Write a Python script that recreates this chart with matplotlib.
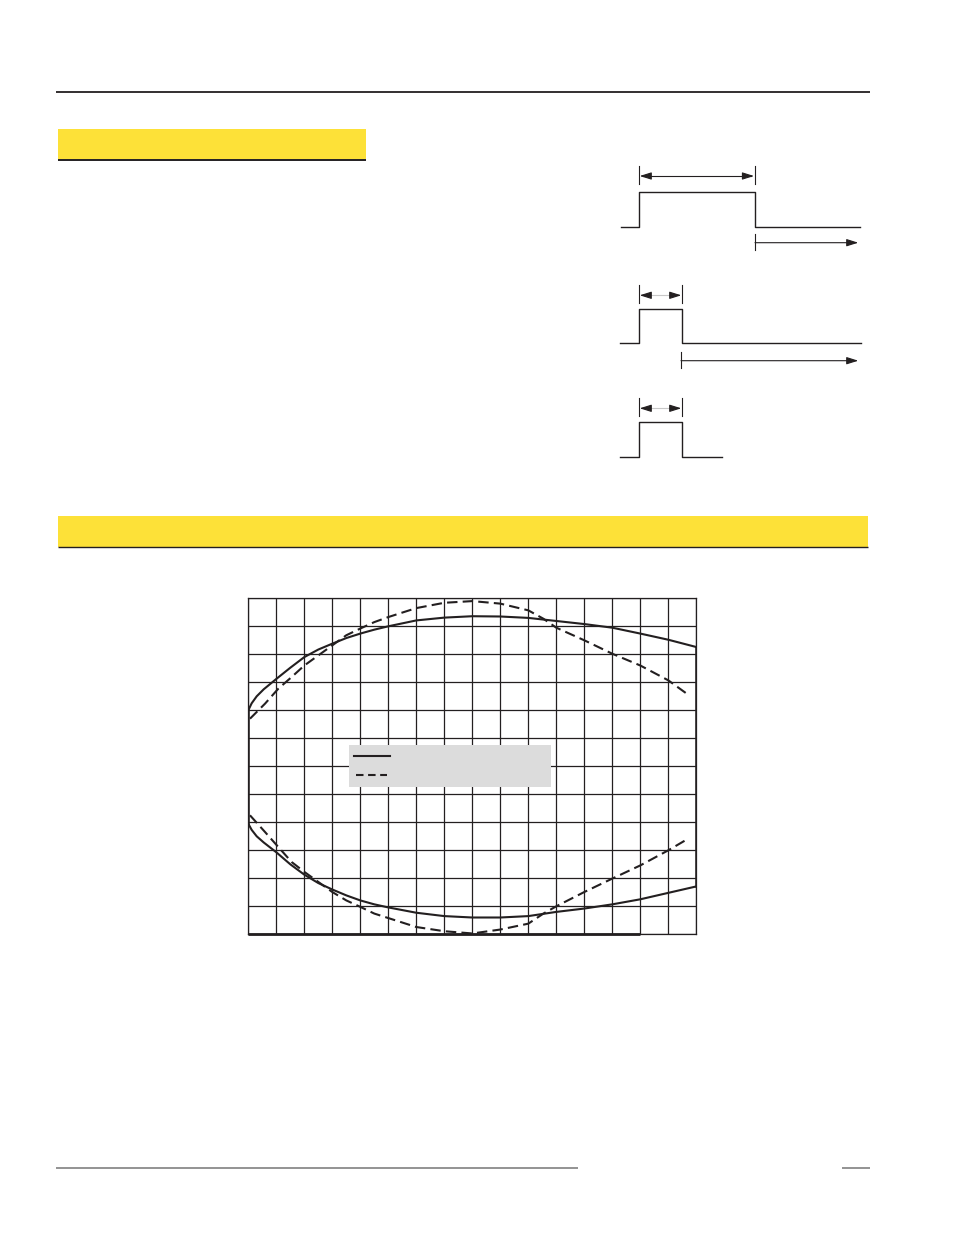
import matplotlib
matplotlib.use('Agg')
import matplotlib.pyplot as plt
from matplotlib.patches import Rectangle

# ---- chart data (grid units: x 0..16, y -6..6) ----
solid_x = [0, 0.12, 0.3, 0.55, 1, 1.5, 2, 2.5, 3, 3.5, 4, 4.5, 5,
           6, 7, 8, 9, 10, 11, 12, 13, 14, 15, 16]
solid_upper = [2.0, 2.25, 2.5, 2.75, 3.12, 3.52, 3.9, 4.17, 4.38, 4.58, 4.74, 4.88, 5.0,
               5.21, 5.31, 5.36, 5.35, 5.3, 5.19, 5.08, 4.95, 4.74, 4.52, 4.26]
solid_lower = [-2.05, -2.27, -2.5, -2.72, -3.07, -3.5, -3.87, -4.17, -4.4, -4.61, -4.79, -4.93, -5.04,
               -5.23, -5.35, -5.4, -5.4, -5.35, -5.2, -5.08, -4.93, -4.75, -4.52, -4.29]

dash_x = [0.06, 0.6, 1.07, 1.55, 2, 2.5, 3, 3.5, 4, 4.5, 5,
          6, 7, 8, 9, 10, 10.54, 11, 12, 13, 14, 15, 15.65]
dash_upper = [1.7, 2.24, 2.77, 3.19, 3.6, 3.96, 4.32, 4.68, 4.92, 5.15, 5.33,
              5.65, 5.84, 5.9, 5.81, 5.57, 5.27, 4.95, 4.5, 4.02, 3.6, 3.07, 2.6]
dash_lower = [-1.75, -2.35, -2.88, -3.42, -3.77, -4.13, -4.49, -4.79, -5.02, -5.26, -5.42,
              -5.74, -5.89, -5.97, -5.83, -5.62, -5.26, -5.0, -4.49, -4.01, -3.54, -3.0, -2.62]

# ---- timing diagrams (page pixels) ----
pulse_start = [620.7, 620, 620]
pulse_rise = [638.7, 638.7, 638.7]
pulse_fall = [755, 682.3, 682.3]
pulse_end = [860, 860.7, 721.7]
pulse_low = [227.3, 343.3, 457.3]
pulse_high = [192.3, 309.3, 422.3]
dim_y = [176, 295.3, 408.3]
dim_shaft = ['#231f20', '#c8c8c8', '#c8c8c8']

INK = '#231f20'
YELLOW = '#fde138'
W, H = 954, 1235
DASH = (0, (5, 2.5))

fig = plt.figure(figsize=(W / 100, H / 100), dpi=100)
page = fig.add_axes([0, 0, 1, 1])
page.set_xlim(0, W)
page.set_ylim(H, 0)
page.axis('off')

# header rule and yellow section bars
page.plot([56, 870], [92, 92], color=INK, lw=1.3, solid_capstyle='butt')
page.add_patch(Rectangle((58, 129), 308, 30, color=YELLOW, lw=0))
page.plot([58, 366], [159.8, 159.8], color=INK, lw=1.4, solid_capstyle='butt')
page.add_patch(Rectangle((58, 516), 810, 31, color=YELLOW, lw=0))
page.plot([58, 868], [547, 547], color=INK, lw=1.0, solid_capstyle='butt')

# footer rules
page.plot([56, 578], [1168, 1168], color='#939393', lw=1.4, solid_capstyle='butt')
page.plot([842, 870], [1168, 1168], color='#939393', lw=1.4, solid_capstyle='butt')


def head(x_from, x_to, y):
    page.annotate('', xy=(x_to, y), xytext=(x_from, y),
                  arrowprops=dict(arrowstyle='-|>,head_length=0.7,head_width=0.22',
                                  color=INK, lw=0.8, shrinkA=0, shrinkB=0))


for i in range(3):
    xs = [pulse_start[i], pulse_rise[i], pulse_rise[i], pulse_fall[i], pulse_fall[i], pulse_end[i]]
    ys = [pulse_low[i], pulse_low[i], pulse_high[i], pulse_high[i], pulse_low[i], pulse_low[i]]
    page.plot(xs, ys, color=INK, lw=1.0)
    # width dimension
    for xt in (pulse_rise[i], pulse_fall[i]):
        page.plot([xt, xt], [dim_y[i] - 10, dim_y[i] + 8], color=INK, lw=0.8)
    page.plot([pulse_rise[i] + 4, pulse_fall[i] - 4], [dim_y[i], dim_y[i]], color=dim_shaft[i], lw=0.8)
    head(pulse_rise[i] + 9, pulse_rise[i] + 1, dim_y[i])
    head(pulse_fall[i] - 9, pulse_fall[i] - 1, dim_y[i])

# delay arrows after the pulse
for xt, yt in [(755, 242.7), (681, 360.7)]:
    page.plot([xt, xt], [yt - 9, yt + 7], color=INK, lw=0.8)
    page.annotate('', xy=(858.3, yt), xytext=(xt, yt),
                  arrowprops=dict(arrowstyle='-|>,head_length=0.7,head_width=0.22',
                                  color=INK, lw=0.8, shrinkA=0, shrinkB=0))

# ---- beam pattern chart ----
ax = fig.add_axes([248.3 / W, 1 - 934.3 / H, 448 / W, 336 / H])
ax.set_facecolor('none')
ax.set_xlim(0, 16)
ax.set_ylim(-6, 6)
ax.set_xticks(range(17))
ax.set_yticks(range(-6, 7))
ax.tick_params(length=0, labelbottom=False, labelleft=False)
ax.grid(True, color=INK, lw=0.9)
for s in ax.spines.values():
    s.set_color(INK)
    s.set_linewidth(0.9)

ax.plot(solid_x, solid_upper, color=INK, lw=1.5)
ax.plot(solid_x, solid_lower, color=INK, lw=1.5)
ax.plot(dash_x, dash_upper, color=INK, lw=1.5, linestyle=DASH)
ax.plot(dash_x, dash_lower, color=INK, lw=1.5, linestyle=DASH)

# closing edges of the pattern
ax.plot([0, 0], [solid_lower[0], solid_upper[0]], color=INK, lw=1.8)
ax.plot([16, 16], [solid_lower[-1], solid_upper[-1]], color=INK, lw=1.8)
ax.plot([0, 14], [-6, -6], color=INK, lw=2.0, clip_on=False, solid_capstyle='butt')

# legend box
ax.add_patch(Rectangle((3.6, -0.75), 7.2, 1.5, color='#dcdcdc', lw=0, zorder=3))
ax.plot([3.78, 5.06], [0.37, 0.37], color=INK, lw=1.5, zorder=4)
ax.plot([3.84, 4.95], [-0.3, -0.3], color=INK, lw=1.5, linestyle=(0, (3.6, 2.2)), zorder=4)

fig.savefig('out.png', dpi=100)
